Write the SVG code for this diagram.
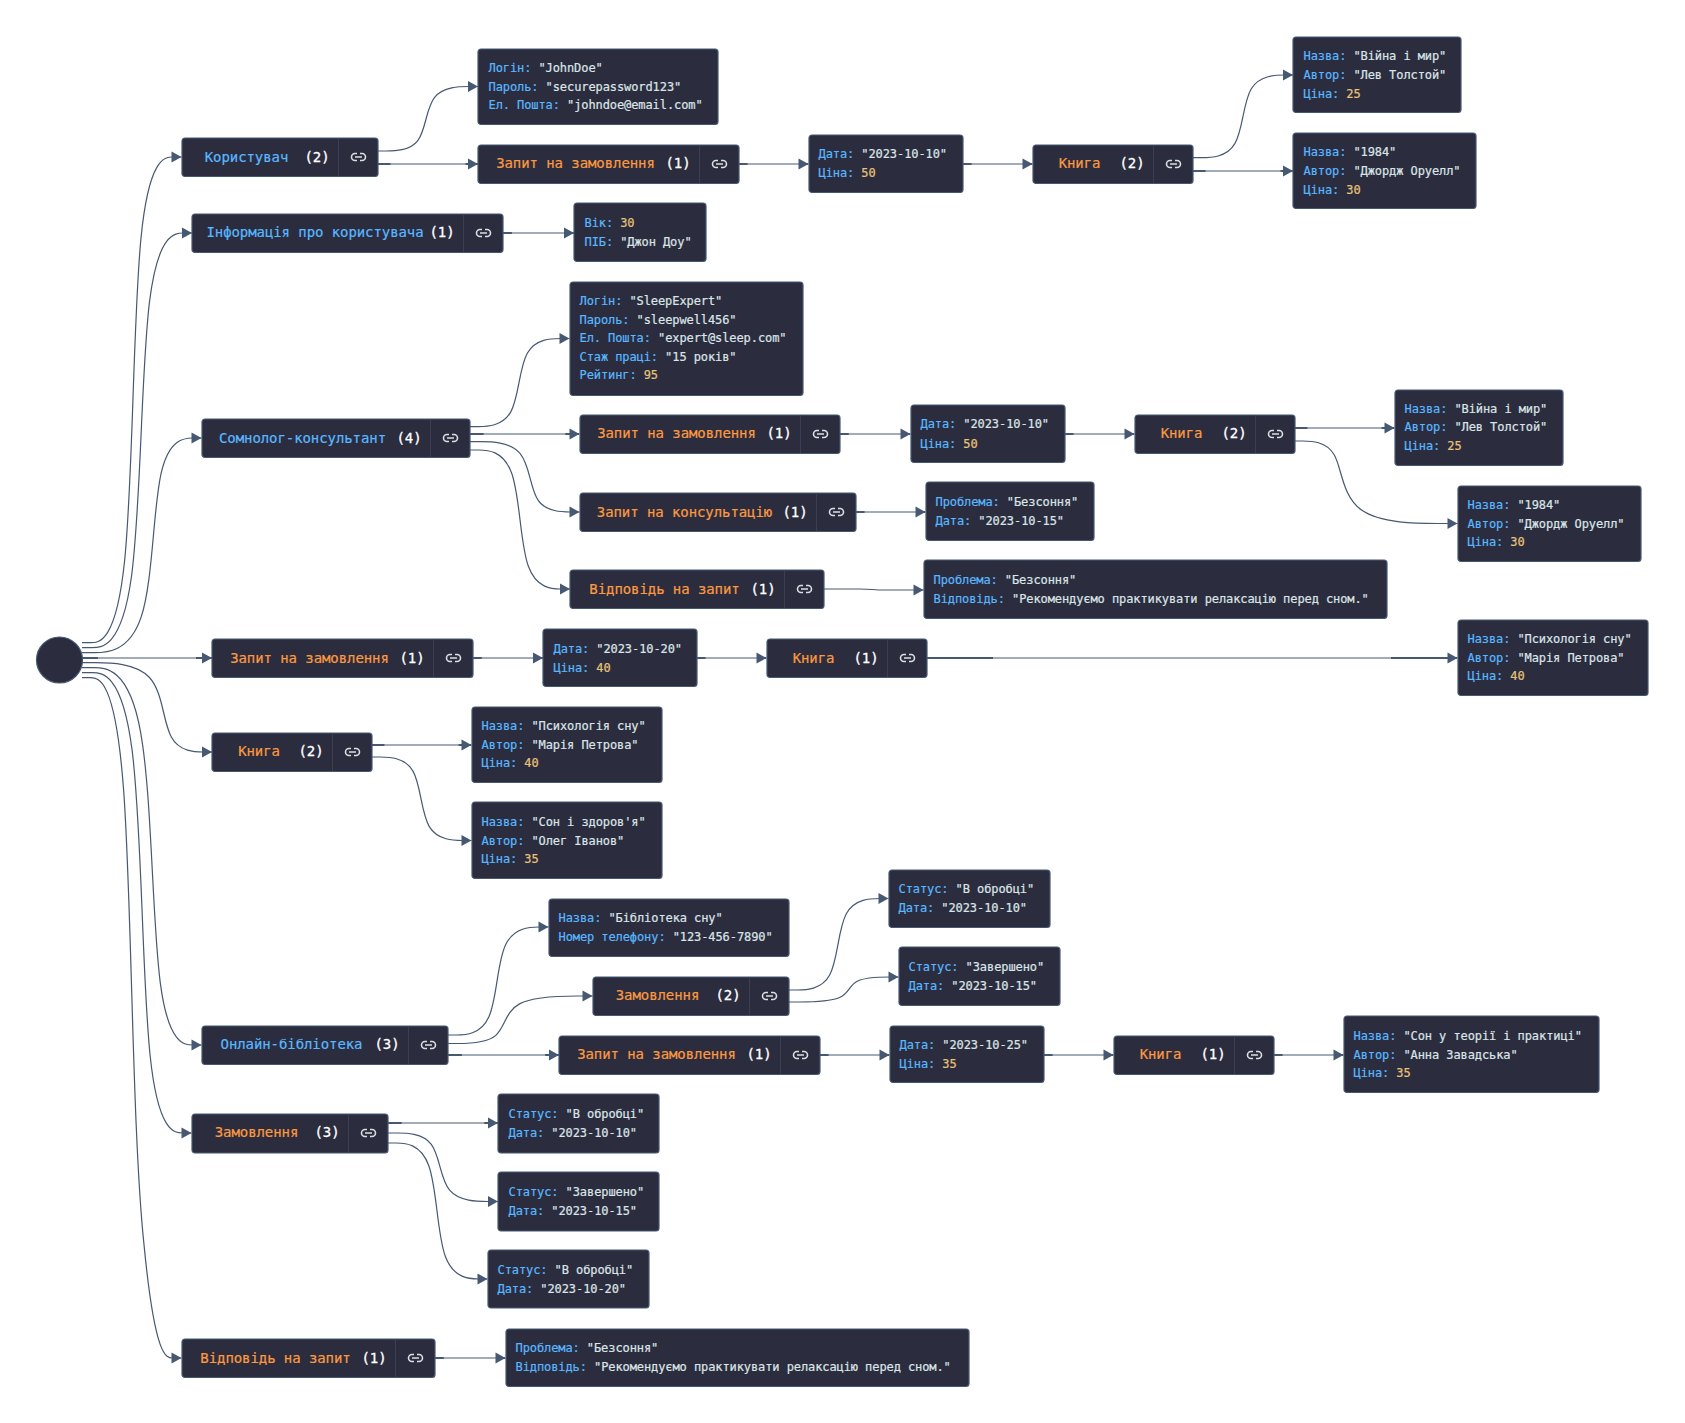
<svg xmlns="http://www.w3.org/2000/svg" width="1685" height="1423" viewBox="0 0 1685 1423">
<style>
text{font-family:"DejaVu Sans Mono","Liberation Mono",monospace;font-size:12px;fill:#dce5e7;stroke:#dce5e7;stroke-width:.2;letter-spacing:-.09px}
.box{fill:#2b2c3e;stroke:#475872;stroke-width:1.2}
.div{stroke:#3d3e52;stroke-width:1}
.ico{fill:none;stroke:#dcdee2;stroke-width:1.6}
.t{font-size:14px;letter-spacing:-.08px}
.o{fill:#fc9a40;stroke:#fc9a40}.b{fill:#59b8ff;stroke:#59b8ff}
.c{fill:#fff;stroke:#fff;stroke-width:.3}
.k{fill:#59b8ff;stroke:#59b8ff}.n{fill:#e8c479;stroke:#e8c479}
.e{fill:none;stroke:#475872;stroke-width:1.2;marker-end:url(#ah)}
.l{fill:none;stroke:#475872;stroke-width:2}
</style>
<defs>
<marker id="ah" markerUnits="userSpaceOnUse" markerWidth="10" markerHeight="11" refX="10" refY="5.5" orient="auto" overflow="visible"><path d="M0 0L10 5.5L0 11z" fill="#475872"/></marker>
<g id="link"><path class="ico" d="M-1.5-3.5H-3.5A3.5 3.5 0 0 0-3.5 3.5H-1.5M1.5-3.5H3.5A3.5 3.5 0 0 1 3.5 3.5H1.5M-3.5 0H3.5"/></g>
</defs>
<rect width="1685" height="1423" fill="#fff"/>
<g id="connectors">
<path class="e" d="M82 642.7L90.5 642.7C99 642.7 116 642.7 124.5 561.8C133 480.8 133 318.9 141 238C149 157 165 157 173 157L181.5 157"/>
<path class="e" d="M82 647.7L91.8 647.7C101.7 647.7 121.3 647.7 131.2 578.5C141 509.4 141 371 149.5 301.9C158 233 175 233 183.5 233L192 233"/>
<path class="e" d="M82 652.7L93.8 652.7C105.7 652.7 129.3 652.7 141.2 616.9C153 581.1 153 509.6 161 473.8C169 438 185 438 193 438L201.5 438"/>
<path class="e" d="M82 658H212"/><path class="l" d="M82 658H98M196 658H212"/>
<path class="e" d="M82 662.7L95.5 662.7C109 662.7 136 662.7 149.5 677.5C163 692.3 163 721.9 171.2 736.7C179.3 752 195.7 752 203.8 752L212 752"/>
<path class="e" d="M82 667.7L93.7 667.7C105.3 667.7 128.7 667.7 140.3 730.6C152 793.5 152 919.2 160.2 982.1C168.3 1045 184.7 1045 192.8 1045L201.5 1045"/>
<path class="e" d="M82 672.7L92 672.7C102 672.7 122 672.7 132 749.4C142 826.1 142 979.6 150.2 1056.3C158.3 1133 174.7 1133 182.8 1133L191.5 1133"/>
<path class="e" d="M82 677.7L90.3 677.7C98.7 677.7 115.3 677.7 123.7 791.1C132 904.5 132 1131.2 144 1244.6C155 1358 166 1358 173 1358L181.5 1358"/>
<path class="e" d="M378 151L386 151C394 151 410 151 418 140.3C426 129.6 426 108.1 434.6 97.4C443.2 86.5 460.3 86.5 468.9 86.5L478 86.5"/>
<path class="e" d="M378 164H478"/><path class="l" d="M378 164H390.5M465.5 164H478"/>
<path class="e" d="M739 164H808.5"/><path class="l" d="M739 164H747.6M799.4 164H808"/>
<path class="e" d="M963 164H1032.5"/><path class="l" d="M963 164H971.6M1023.4 164H1032"/>
<path class="e" d="M1193 157.7L1201.6 157.7C1209.9 157.7 1226.4 157.7 1234.7 143.9C1243 130.1 1243 102.6 1251.3 88.8C1259.6 75 1276.1 75 1284.4 75L1293 75"/>
<path class="e" d="M1193 171H1293"/><path class="l" d="M1193 171H1205.5M1280.5 171H1293"/>
<path class="e" d="M503 233H574"/><path class="l" d="M503 233H511.9M565.1 233H574"/>
<path class="e" d="M470 426.6L478.2 426.6C486.3 426.6 502.7 426.6 510.8 411.9C519 397.2 519 367.9 527.3 353.2C535.5 338.5 552 338.5 560.3 338.5L569.5 338.5"/>
<path class="e" d="M470 434H579.5"/><path class="l" d="M470 434H483.6M565.4 434H579"/>
<path class="e" d="M470 441.7L480 441.7C490 441.7 510 441.7 520 453.4C530 465.1 530 488.6 538.2 500.3C546.3 512 562.7 512 570.8 512L579.5 512"/>
<path class="e" d="M470 450L478.3 450C486.7 450 503.3 450 511.7 473.2C520 496.3 520 542.7 528.2 565.8C536.3 589 552.8 589 561 589L570 589"/>
<path class="e" d="M840 434H910.5"/><path class="l" d="M840 434H848.8M901.2 434H910"/>
<path class="e" d="M1065 434H1134.5"/><path class="l" d="M1065 434H1073.6M1125.4 434H1134"/>
<path class="e" d="M1295 428H1394.5"/><path class="l" d="M1295 428H1307.4M1381.6 428H1394"/>
<path class="e" d="M1295 441L1302.8 441C1310.7 441 1326.3 441 1334.2 454.8C1342 468.5 1342 496 1361.2 509.8C1380.3 523.5 1418.7 523.5 1437.8 523.5L1457.5 523.5"/>
<path class="e" d="M856 512H925.5"/><path class="l" d="M856 512H864.6M916.4 512H925"/>
<path class="e" d="M824 589H860C872 589 873 590 885 590H923.5"/>
<path class="e" d="M473 658H543"/><path class="l" d="M473 658H481.8M534.2 658H543"/>
<path class="e" d="M697 658H766.5"/><path class="l" d="M697 658H705.6M757.4 658H766"/>
<path class="e" d="M927 658H1457.5"/><path class="l" d="M927 658H993M1391 658H1457"/>
<path class="e" d="M372 745H471.5"/><path class="l" d="M372 745H384.4M458.6 745H471"/>
<path class="e" d="M372 757L380.2 757C388.3 757 404.7 757 412.8 770.9C421 784.8 421 812.7 429.3 826.6C437.7 840.5 454.3 840.5 462.7 840.5L471.5 840.5"/>
<path class="e" d="M448 1035L456.2 1035C464.3 1035 480.7 1035 488.8 1017C497 999 497 963 505.5 945C514 927 531 927 539.5 927L548.5 927"/>
<path class="e" d="M448 1043.5L457.5 1043.5C467 1043.5 486 1043.5 495.5 1035.6C505 1027.7 505 1011.8 519.5 1003.9C534 996 563 996 577.5 996L592.5 996"/>
<path class="e" d="M448 1055H559"/><path class="l" d="M448 1055H461.9M545.1 1055H559"/>
<path class="e" d="M789 990L797.2 990C805.3 990 821.7 990 829.8 974.8C838 959.5 838 929 846.3 913.8C854.7 898.5 871.3 898.5 879.7 898.5L888.5 898.5"/>
<path class="e" d="M789 1002L799 1002C809 1002 829 1002 839 997.8C849 993.7 849 985.3 857.2 981.2C865.3 977 881.7 977 889.8 977L898.5 977"/>
<path class="e" d="M820 1055H889.5"/><path class="l" d="M820 1055H828.6M880.4 1055H889"/>
<path class="e" d="M1044 1055H1113.5"/><path class="l" d="M1044 1055H1052.6M1104.4 1055H1113"/>
<path class="e" d="M1274 1055H1343.5"/><path class="l" d="M1274 1055H1282.6M1334.4 1055H1343"/>
<path class="e" d="M388 1123H498"/><path class="l" d="M388 1123H401.7M484.3 1123H498"/>
<path class="e" d="M388 1133L396.7 1133C405.3 1133 422.7 1133 431.3 1144.4C440 1155.8 440 1178.7 449.6 1190.1C459.2 1201.5 478.3 1201.5 487.9 1201.5L498 1201.5"/>
<path class="e" d="M388 1143L396.2 1143C404.3 1143 420.7 1143 428.8 1165.7C437 1188.3 437 1233.7 445.3 1256.3C453.7 1279 470.3 1279 478.7 1279L487.5 1279"/>
<path class="e" d="M435 1358H505.5"/><path class="l" d="M435 1358H443.8M496.2 1358H505"/>
</g>
<g id="root"><circle class="box" cx="59.5" cy="660" r="23"/></g>

<g id="n1" transform="translate(181 137)"><rect class="box" x="1" y="1" width="196" height="38.5" rx="3"/><path class="div" d="M157.5 1V39"/><text class="t b" x="65.5" y="25" text-anchor="middle">Користувач</text><text class="t c" x="123.5" y="25">(2)</text><use href="#link" x="177.5" y="20"/></g>
<g id="n2" transform="translate(478 48)"><rect class="box" x="0" y="1" width="240" height="75.5" rx="3"/><text x="10.5" y="24"><tspan class="k">Логін:</tspan> "JohnDoe"</text><text x="10.5" y="43"><tspan class="k">Пароль:</tspan> "securepassword123"</text><text x="10.5" y="61"><tspan class="k">Ел. Пошта:</tspan> "johndoe@email.com"</text></g>
<g id="n3" transform="translate(478 144)"><rect class="box" x="0" y="1" width="261" height="38.5" rx="3"/><path class="div" d="M221.5 1V39"/><text class="t o" x="97.5" y="24" text-anchor="middle">Запит на замовлення</text><text class="t c" x="187.5" y="24">(1)</text><use href="#link" x="241.5" y="20"/></g>
<g id="n4" transform="translate(808 134)"><rect class="box" x="1" y="1" width="154" height="57.5" rx="3"/><text x="10.5" y="24"><tspan class="k">Дата:</tspan> "2023-10-10"</text><text x="10.5" y="42.5"><tspan class="k">Ціна:</tspan> <tspan class="n">50</tspan></text></g>
<g id="n5" transform="translate(1032 144)"><rect class="box" x="1" y="1" width="160" height="38.5" rx="3"/><path class="div" d="M121.5 1V39"/><text class="t o" x="47.5" y="24" text-anchor="middle">Книга</text><text class="t c" x="87.5" y="24">(2)</text><use href="#link" x="141.5" y="20"/></g>
<g id="n6" transform="translate(1293 37)"><rect class="box" x="0" y="0" width="168" height="75.5" rx="3"/><text x="10.5" y="23"><tspan class="k">Назва:</tspan> "Війна і мир"</text><text x="10.5" y="42"><tspan class="k">Автор:</tspan> "Лев Толстой"</text><text x="10.5" y="60.5"><tspan class="k">Ціна:</tspan> <tspan class="n">25</tspan></text></g>
<g id="n7" transform="translate(1293 133)"><rect class="box" x="0" y="0" width="183" height="75.5" rx="3"/><text x="10.5" y="23"><tspan class="k">Назва:</tspan> "1984"</text><text x="10.5" y="42"><tspan class="k">Автор:</tspan> "Джордж Оруелл"</text><text x="10.5" y="60.5"><tspan class="k">Ціна:</tspan> <tspan class="n">30</tspan></text></g>

<g id="n8" transform="translate(192 213)"><rect class="box" x="0" y="1" width="311" height="38.5" rx="3"/><path class="div" d="M271.5 1V39"/><text class="t b" x="123" y="24" text-anchor="middle">Інформація про користувача</text><text class="t c" x="237.5" y="24">(1)</text><use href="#link" x="291.5" y="20"/></g>
<g id="n9" transform="translate(574 203)"><rect class="box" x="0" y="0" width="132" height="58.5" rx="3"/><text x="10.5" y="24"><tspan class="k">Вік:</tspan> <tspan class="n">30</tspan></text><text x="10.5" y="42.5"><tspan class="k">ПІБ:</tspan> "Джон Доу"</text></g>

<g id="n10" transform="translate(201 418)"><rect class="box" x="1" y="1" width="268" height="38.5" rx="3"/><path class="div" d="M229.5 1V39"/><text class="t b" x="101.5" y="25" text-anchor="middle">Сомнолог-консультант</text><text class="t c" x="195.5" y="25">(4)</text><use href="#link" x="249.5" y="20"/></g>
<g id="n11" transform="translate(569 282)"><rect class="box" x="1" y="0" width="233" height="113.5" rx="3"/><text x="10.5" y="23"><tspan class="k">Логін:</tspan> "SleepExpert"</text><text x="10.5" y="41.5"><tspan class="k">Пароль:</tspan> "sleepwell456"</text><text x="10.5" y="60"><tspan class="k">Ел. Пошта:</tspan> "expert@sleep.com"</text><text x="10.5" y="79"><tspan class="k">Стаж праці:</tspan> "15 років"</text><text x="10.5" y="97"><tspan class="k">Рейтинг:</tspan> <tspan class="n">95</tspan></text></g>
<g id="n12" transform="translate(579 414)"><rect class="box" x="1" y="1" width="260" height="38.5" rx="3"/><path class="div" d="M221.5 1V39"/><text class="t o" x="97.5" y="24" text-anchor="middle">Запит на замовлення</text><text class="t c" x="187.5" y="24">(1)</text><use href="#link" x="241.5" y="20"/></g>
<g id="n13" transform="translate(910 405)"><rect class="box" x="1" y="0" width="154" height="57.5" rx="3"/><text x="10.5" y="23"><tspan class="k">Дата:</tspan> "2023-10-10"</text><text x="10.5" y="42.5"><tspan class="k">Ціна:</tspan> <tspan class="n">50</tspan></text></g>
<g id="n14" transform="translate(1134 414)"><rect class="box" x="1" y="1" width="160" height="38.5" rx="3"/><path class="div" d="M121.5 1V39"/><text class="t o" x="47.5" y="24" text-anchor="middle">Книга</text><text class="t c" x="87.5" y="24">(2)</text><use href="#link" x="141.5" y="20"/></g>
<g id="n15" transform="translate(1394 389)"><rect class="box" x="1" y="1" width="168" height="75.5" rx="3"/><text x="10.5" y="23.5"><tspan class="k">Назва:</tspan> "Війна і мир"</text><text x="10.5" y="42"><tspan class="k">Автор:</tspan> "Лев Толстой"</text><text x="10.5" y="60.5"><tspan class="k">Ціна:</tspan> <tspan class="n">25</tspan></text></g>
<g id="n16" transform="translate(1457 485)"><rect class="box" x="1" y="1" width="183" height="75.5" rx="3"/><text x="10.5" y="23.5"><tspan class="k">Назва:</tspan> "1984"</text><text x="10.5" y="43"><tspan class="k">Автор:</tspan> "Джордж Оруелл"</text><text x="10.5" y="60.5"><tspan class="k">Ціна:</tspan> <tspan class="n">30</tspan></text></g>
<g id="n17" transform="translate(579 492)"><rect class="box" x="1" y="1" width="276" height="38.5" rx="3"/><path class="div" d="M237.5 1V39"/><text class="t o" x="105.5" y="25" text-anchor="middle">Запит на консультацію</text><text class="t c" x="203.5" y="25">(1)</text><use href="#link" x="257.5" y="20"/></g>
<g id="n18" transform="translate(925 482)"><rect class="box" x="1" y="0" width="168" height="58.5" rx="3"/><text x="10.5" y="24"><tspan class="k">Проблема:</tspan> "Безсоння"</text><text x="10.5" y="42.5"><tspan class="k">Дата:</tspan> "2023-10-15"</text></g>
<g id="n19" transform="translate(570 569)"><rect class="box" x="0" y="1" width="254" height="38.5" rx="3"/><path class="div" d="M214.5 1V39"/><text class="t o" x="94.5" y="25" text-anchor="middle">Відповідь на запит</text><text class="t c" x="180.5" y="25">(1)</text><use href="#link" x="234.5" y="20"/></g>
<g id="n20" transform="translate(923 560)"><rect class="box" x="1" y="0" width="463" height="58.5" rx="3"/><text x="10.5" y="24"><tspan class="k">Проблема:</tspan> "Безсоння"</text><text x="10.5" y="42.5"><tspan class="k">Відповідь:</tspan> "Рекомендуємо практикувати релаксацію перед сном."</text></g>

<g id="n21" transform="translate(212 638)"><rect class="box" x="0" y="1" width="261" height="38.5" rx="3"/><path class="div" d="M221.5 1V39"/><text class="t o" x="97.5" y="25" text-anchor="middle">Запит на замовлення</text><text class="t c" x="187.5" y="25">(1)</text><use href="#link" x="241.5" y="20"/></g>
<g id="n22" transform="translate(543 629)"><rect class="box" x="0" y="0" width="154" height="57.5" rx="3"/><text x="10.5" y="24"><tspan class="k">Дата:</tspan> "2023-10-20"</text><text x="10.5" y="42.5"><tspan class="k">Ціна:</tspan> <tspan class="n">40</tspan></text></g>
<g id="n23" transform="translate(766 638)"><rect class="box" x="1" y="1" width="160" height="38.5" rx="3"/><path class="div" d="M121.5 1V39"/><text class="t o" x="47.5" y="25" text-anchor="middle">Книга</text><text class="t c" x="87.5" y="25">(1)</text><use href="#link" x="141.5" y="20"/></g>
<g id="n24" transform="translate(1457 619)"><rect class="box" x="1" y="1" width="190" height="75.5" rx="3"/><text x="10.5" y="23.5"><tspan class="k">Назва:</tspan> "Психологія сну"</text><text x="10.5" y="42.5"><tspan class="k">Автор:</tspan> "Марія Петрова"</text><text x="10.5" y="60.5"><tspan class="k">Ціна:</tspan> <tspan class="n">40</tspan></text></g>

<g id="n25" transform="translate(212 732)"><rect class="box" x="0" y="1" width="160" height="38.5" rx="3"/><path class="div" d="M120.5 1V39"/><text class="t o" x="47" y="24" text-anchor="middle">Книга</text><text class="t c" x="86.5" y="24">(2)</text><use href="#link" x="140.5" y="20"/></g>
<g id="n26" transform="translate(471 706)"><rect class="box" x="1" y="1" width="190" height="75.5" rx="3"/><text x="10.5" y="23.5"><tspan class="k">Назва:</tspan> "Психологія сну"</text><text x="10.5" y="43"><tspan class="k">Автор:</tspan> "Марія Петрова"</text><text x="10.5" y="60.5"><tspan class="k">Ціна:</tspan> <tspan class="n">40</tspan></text></g>
<g id="n27" transform="translate(471 802)"><rect class="box" x="1" y="0" width="190" height="76.5" rx="3"/><text x="10.5" y="23.5"><tspan class="k">Назва:</tspan> "Сон і здоров'я"</text><text x="10.5" y="43"><tspan class="k">Автор:</tspan> "Олег Іванов"</text><text x="10.5" y="60.5"><tspan class="k">Ціна:</tspan> <tspan class="n">35</tspan></text></g>

<g id="n28" transform="translate(201 1025)"><rect class="box" x="1" y="1" width="246" height="38.5" rx="3"/><path class="div" d="M207.5 1V39"/><text class="t b" x="90.5" y="24" text-anchor="middle">Онлайн-бібліотека</text><text class="t c" x="173.5" y="24">(3)</text><use href="#link" x="227.5" y="20"/></g>
<g id="n29" transform="translate(548 898)"><rect class="box" x="1" y="1" width="240" height="57.5" rx="3"/><text x="10.5" y="24"><tspan class="k">Назва:</tspan> "Бібліотека сну"</text><text x="10.5" y="42.5"><tspan class="k">Номер телефону:</tspan> "123-456-7890"</text></g>
<g id="n30" transform="translate(592 976)"><rect class="box" x="1" y="1" width="196" height="38.5" rx="3"/><path class="div" d="M157.5 1V39"/><text class="t o" x="65.5" y="24" text-anchor="middle">Замовлення</text><text class="t c" x="123.5" y="24">(2)</text><use href="#link" x="177.5" y="20"/></g>
<g id="n31" transform="translate(888 869)"><rect class="box" x="1" y="1" width="161" height="57.5" rx="3"/><text x="10.5" y="24"><tspan class="k">Статус:</tspan> "В обробці"</text><text x="10.5" y="42.5"><tspan class="k">Дата:</tspan> "2023-10-10"</text></g>
<g id="n32" transform="translate(898 947)"><rect class="box" x="1" y="0" width="161" height="58.5" rx="3"/><text x="10.5" y="24"><tspan class="k">Статус:</tspan> "Завершено"</text><text x="10.5" y="42.5"><tspan class="k">Дата:</tspan> "2023-10-15"</text></g>
<g id="n33" transform="translate(559 1035)"><rect class="box" x="0" y="1" width="261" height="38.5" rx="3"/><path class="div" d="M221.5 1V39"/><text class="t o" x="97.5" y="24" text-anchor="middle">Запит на замовлення</text><text class="t c" x="187.5" y="24">(1)</text><use href="#link" x="241.5" y="20"/></g>
<g id="n34" transform="translate(889 1025)"><rect class="box" x="1" y="1" width="154" height="56.5" rx="3"/><text x="10.5" y="24"><tspan class="k">Дата:</tspan> "2023-10-25"</text><text x="10.5" y="42.5"><tspan class="k">Ціна:</tspan> <tspan class="n">35</tspan></text></g>
<g id="n35" transform="translate(1113 1035)"><rect class="box" x="1" y="1" width="160" height="38.5" rx="3"/><path class="div" d="M121.5 1V39"/><text class="t o" x="47.5" y="24" text-anchor="middle">Книга</text><text class="t c" x="87.5" y="24">(1)</text><use href="#link" x="141.5" y="20"/></g>
<g id="n36" transform="translate(1343 1016)"><rect class="box" x="1" y="0" width="255" height="76.5" rx="3"/><text x="10.5" y="23.5"><tspan class="k">Назва:</tspan> "Сон у теорії і практиці"</text><text x="10.5" y="43"><tspan class="k">Автор:</tspan> "Анна Завадська"</text><text x="10.5" y="60.5"><tspan class="k">Ціна:</tspan> <tspan class="n">35</tspan></text></g>

<g id="n37" transform="translate(191 1113)"><rect class="box" x="1" y="1" width="196" height="39" rx="3"/><path class="div" d="M157.5 1V39"/><text class="t o" x="65.5" y="24" text-anchor="middle">Замовлення</text><text class="t c" x="123.5" y="24">(3)</text><use href="#link" x="177.5" y="20"/></g>
<g id="n38" transform="translate(498 1094)"><rect class="box" x="0" y="0" width="161" height="59" rx="3"/><text x="10.5" y="24"><tspan class="k">Статус:</tspan> "В обробці"</text><text x="10.5" y="42.5"><tspan class="k">Дата:</tspan> "2023-10-10"</text></g>
<g id="n39" transform="translate(498 1172)"><rect class="box" x="0" y="0" width="161" height="59" rx="3"/><text x="10.5" y="24"><tspan class="k">Статус:</tspan> "Завершено"</text><text x="10.5" y="42.5"><tspan class="k">Дата:</tspan> "2023-10-15"</text></g>
<g id="n40" transform="translate(487 1250)"><rect class="box" x="1" y="0" width="161" height="58" rx="3"/><text x="10.5" y="24"><tspan class="k">Статус:</tspan> "В обробці"</text><text x="10.5" y="42.5"><tspan class="k">Дата:</tspan> "2023-10-20"</text></g>

<g id="n41" transform="translate(181 1338)"><rect class="box" x="1" y="1" width="253" height="38.5" rx="3"/><path class="div" d="M214.5 1V39"/><text class="t o" x="94.5" y="25" text-anchor="middle">Відповідь на запит</text><text class="t c" x="180.5" y="25">(1)</text><use href="#link" x="234.5" y="20"/></g>
<g id="n42" transform="translate(505 1328)"><rect class="box" x="1" y="1" width="463" height="57.5" rx="3"/><text x="10.5" y="24"><tspan class="k">Проблема:</tspan> "Безсоння"</text><text x="10.5" y="42.5"><tspan class="k">Відповідь:</tspan> "Рекомендуємо практикувати релаксацію перед сном."</text></g>
</svg>
